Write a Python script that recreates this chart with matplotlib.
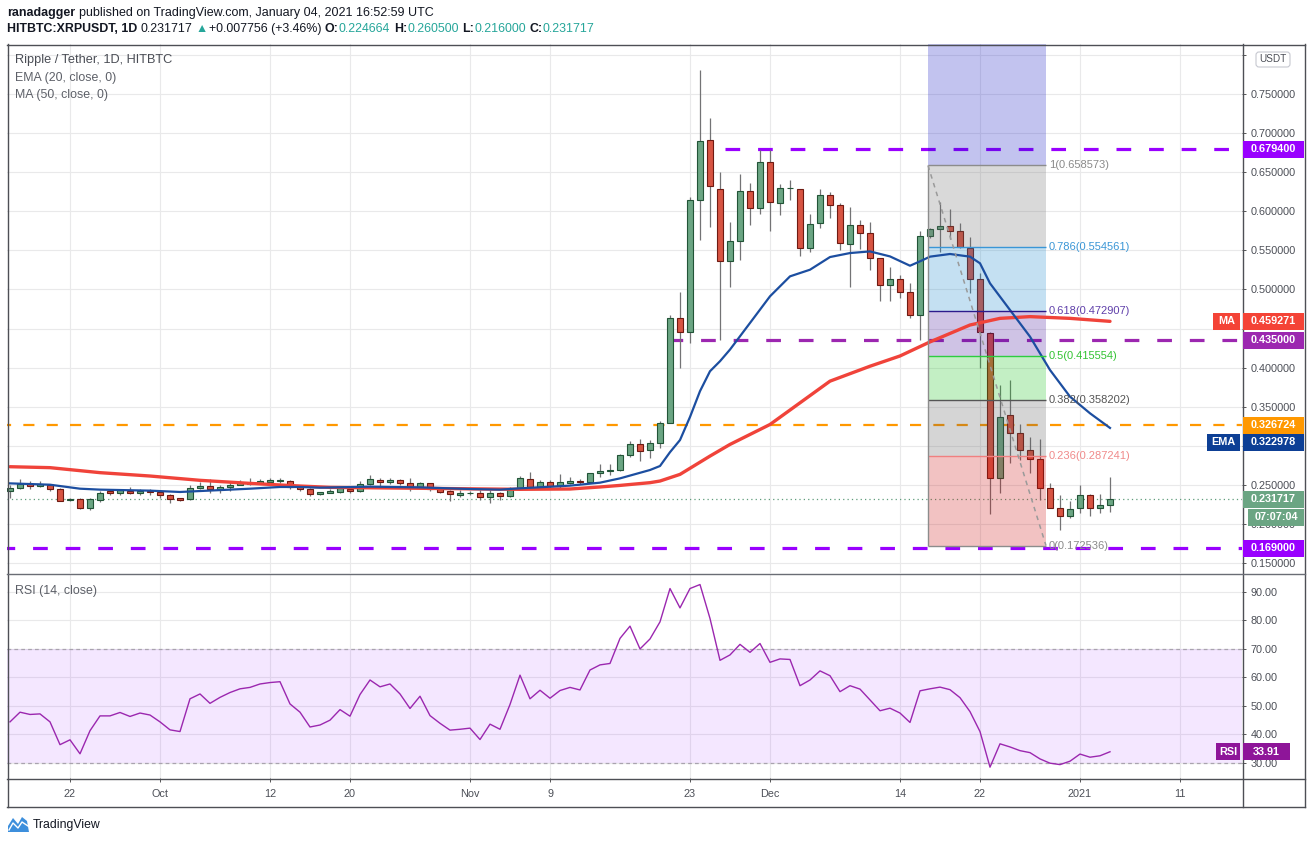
import numpy as np
import pandas as pd
import matplotlib
matplotlib.use('Agg')
import matplotlib.pyplot as plt
from matplotlib.patches import Rectangle, FancyBboxPatch, Polygon
from matplotlib.lines import Line2D
from matplotlib.transforms import IdentityTransform
from matplotlib.ticker import FuncFormatter

plt.rcParams['font.family'] = ['Liberation Sans', 'DejaVu Sans']

# ---- data (HITBTC XRP/USDT daily) ----
start_date = '2020-09-16'

opens = [.2428, .2466, .2517, .2492, .2504, .2453, .2304, .2326, .2211, .2313,
         .2423, .2402, .2428, .2402, .2423, .2411, .2377, .2330, .2317, .2466,
         .2492, .2453, .2479, .2504, .2513, .2530, .2543, .2556, .2555, .2479,
         .2453, .2385, .2402, .2415, .2445, .2428, .2509, .2560, .2543, .2560,
         .2526, .2470, .2526, .2449, .2423, .2377, .2394, .2394, .2343, .2398,
         .2364, .2445, .2573, .2479, .2539, .2492, .2530, .2547, .2543, .2649,
         .2675, .2691, .2883, .3028, .2943, .3040, .3296, .4636, .4457, .6138,
         .6913, .6283, .5364, .5615, .6257, .6040, .6628, .6104, .6296, .6287,
         .5533, .5853, .6210, .6083, .5584, .5827, .5725, .5405, .5060, .5137,
         .4971, .4677, .5687, .5770, .5817, .5753, .5535, .5130, .4448, .2594,
         .3391, .3169, .2948, .2828, .2466, .2202, .2104, .2202, .2368, .2202,
         .224664]
highs = [.2496, .2581, .2547, .2547, .2517, .2462, .2338, .2338, .2338, .2419,
         .2453, .2445, .2479, .2453, .2453, .2441, .2389, .2338, .2496, .2539,
         .2581, .2504, .2539, .2560, .2594, .2581, .2590, .2590, .2564, .2487,
         .2462, .2415, .2445, .2487, .2470, .2547, .2632, .2594, .2585, .2573,
         .2590, .2538, .2530, .2458, .2436, .2436, .2424, .2436, .2436, .2415,
         .2470, .2615, .2666, .2564, .2564, .2641, .2598, .2581, .2658, .2769,
         .2769, .2892, .3060, .3083, .3070, .3317, .4679, .4963, .6189, .7806,
         .7189, .6500, .5862, .6474, .6360, .6785, .6785, .6351, .6406, .6287,
         .5959, .6291, .6244, .6108, .6053, .5887, .5861, .5405, .5282, .5180,
         .5078, .5746, .5790, .6123, .6025, .5846, .5676, .5207, .4461, .3775,
         .3843, .3276, .3110, .3084, .2521, .2372, .2300, .2500, .2381, .2381,
         .2605]
lows = [.2334, .2453, .2453, .2470, .2419, .2291, .2291, .2198, .2185, .2283,
        .2377, .2368, .2385, .2377, .2368, .2334, .2274, .2300, .2308, .2453,
        .2402, .2402, .2419, .2496, .2504, .2513, .2521, .2530, .2453, .2419,
        .2360, .2377, .2394, .2394, .2402, .2411, .2496, .2487, .2513, .2496,
        .2428, .2453, .2428, .2394, .2300, .2347, .2377, .2309, .2274, .2309,
        .2351, .2436, .2445, .2458, .2445, .2458, .2513, .2513, .2530, .2607,
        .2632, .2683, .2862, .2806, .2849, .2977, .3296, .3998, .4317, .5637,
        .5794, .4351, .5028, .5381, .5819, .5968, .5743, .5947, .6142, .5427,
        .5478, .5780, .5912, .5503, .5031, .5512, .5248, .4852, .4852, .4890,
        .4634, .4354, .5660, .5484, .5642, .5535, .4951, .3992, .2125, .2394,
        .2786, .2820, .2658, .2308, .2202, .1925, .2074, .2146, .2108, .2138,
        .2160]
closes = [.2466, .2517, .2492, .2509, .2453, .2300, .2326, .2211, .2326, .2402,
          .2402, .2432, .2402, .2423, .2415, .2377, .2326, .2313, .2466, .2492,
          .2453, .2479, .2504, .2521, .2530, .2547, .2560, .2564, .2475, .2453,
          .2389, .2406, .2428, .2462, .2428, .2513, .2573, .2539, .2564, .2521,
          .2470, .2526, .2445, .2415, .2381, .2402, .2398, .2343, .2394, .2364,
          .2445, .2585, .2479, .2534, .2492, .2534, .2551, .2540, .2649, .2679,
          .2692, .2879, .3028, .2938, .3040, .3296, .4636, .4457, .6147, .6900,
          .6317, .5364, .5615, .6257, .6040, .6628, .6113, .6296, .6300, .5533,
          .5840, .6202, .6083, .5597, .5827, .5725, .5405, .5060, .5137, .4971,
          .4677, .5687, .5776, .5817, .5753, .5548, .5130, .4461, .2594, .3366,
          .3169, .2948, .2828, .2466, .2202, .2108, .2193, .2368, .2202, .2240,
          .231717]

# EMA(20) and MA(50) read at sample days (day index from start_date)
ema_days = [0, 4, 7, 9, 14, 17, 19, 24, 27, 29, 31, 36, 41, 46, 49, 51, 56, 59, 61, 64,
            65, 66, 67, 68, 69, 70, 71, 72, 74, 76, 78, 80, 82, 84, 86, 88, 90, 91, 92, 94,
            96, 97, 98, 100, 102, 104, 106, 108, 110]
ema_vals = [.2521, .2504, .2453, .2441, .2428, .2411, .2423, .2453, .2475, .2475, .2466, .2479,
            .2470, .2449, .2441, .2458, .2492, .2530, .2585, .2692, .2743, .2920, .3075, .3370,
            .3700, .3955, .4083, .4232, .4572, .4913, .5168, .5253, .5415, .5466, .5487, .5423,
            .5304, .5360, .5420, .5454, .5420, .5335, .5079, .4738, .4397, .3971, .3630, .3417,
            .322978]
ma_days = [0, 4, 9, 14, 19, 24, 29, 32, 41, 51, 56, 59, 61, 64, 65, 67, 70, 72, 76, 79,
           82, 86, 89, 92, 96, 99, 102, 106, 110]
ma_vals = [.2734, .2722, .2658, .2615, .2560, .2521, .2487, .2470, .2458, .2445, .2449, .2475,
           .2495, .2530, .2551, .2636, .2870, .3019, .3274, .3551, .3828, .4019, .4150, .4330,
           .4546, .4631, .4653, .4631, .459271]

rsi_vals = [44.4, 47.8, 47.0, 47.2, 44.4, 36.4, 38.1, 33.2, 41.3, 46.5,
            46.5, 47.7, 46.3, 47.5, 46.8, 44.4, 41.6, 41.0, 52.5, 54.2,
            50.9, 53.0, 54.7, 56.0, 56.5, 57.7, 58.2, 58.5, 50.7, 47.8,
            42.6, 43.3, 45.0, 48.7, 46.4, 54.0, 59.1, 56.7, 57.7, 54.2,
            49.1, 53.4, 46.6, 43.9, 41.5, 41.8, 42.2, 38.2, 43.6, 41.8,
            50.5, 60.8, 52.5, 55.5, 52.7, 55.4, 56.5, 55.6, 62.6, 64.4,
            64.9, 73.7, 78.0, 70.0, 73.5, 79.5, 91.2, 84.4, 91.2, 92.6,
            80.7, 66.0, 67.9, 71.6, 68.8, 71.9, 65.3, 66.5, 66.3, 57.1,
            59.1, 62.3, 60.6, 55.0, 57.1, 55.9, 52.1, 48.3, 49.2, 47.5,
            44.2, 55.3, 56.0, 56.6, 55.7, 52.9, 48.0, 41.0, 28.5, 36.7,
            35.6, 34.3, 33.6, 31.4, 29.9, 29.4, 30.6, 33.1, 32.0, 32.5,
            33.91]

fib_names = ['1', '0.786', '0.618', '0.5', '0.382', '0.236', '0']
fib_prices = [0.658573, 0.554561, 0.472907, 0.415554, 0.358202, 0.287241, 0.172536]
level_prices = [0.6794, 0.435, 0.326724, 0.169]
change_abs = 0.007756
change_pct = 3.46
countdown = '07:07:04'

tick_dates = ['2020-09-22', '2020-10-01', '2020-10-12', '2020-10-20', '2020-11-01', '2020-11-09',
              '2020-11-23', '2020-12-01', '2020-12-14', '2020-12-22', '2021-01-01', '2021-01-11']
tick_labels = ['22', 'Oct', '12', '20', 'Nov', '9', '23', 'Dec', '14', '22', '2021', '11']

# ---- figure / panes ----
W, H = 1311, 843
fig = plt.figure(figsize=(W / 100, H / 100), dpi=100)
fig.patch.set_facecolor('white')
PIX = IdentityTransform()


def frac(x0, y0, x1, y1):
    return [x0 / W, 1 - y1 / H, (x1 - x0) / W, (y1 - y0) / H]


ax = fig.add_axes(frac(7, 44, 1242, 573))
rax = fig.add_axes(frac(7, 574, 1242, 778))

n = len(closes)
x = np.arange(n)
o = np.array(opens); c = np.array(closes)
hi = np.array(highs); lo = np.array(lows)
t0 = pd.Timestamp(start_date)
tick_pos = [(pd.Timestamp(d) - t0).days for d in tick_dates]

for a in (ax, rax):
    a.set_xlim(-0.3, 123.2)
    a.set_xticks(tick_pos)
    a.grid(True, color='#e9e9ea', lw=0.8)
    a.set_axisbelow(True)
    for s in a.spines.values():
        s.set_visible(False)
    a.yaxis.tick_right()
    a.tick_params(axis='y', length=3, width=0.7, color='#555555', labelcolor='#4c4f57',
                  labelsize=7.8, pad=3)

ax.set_ylim(0.1375, 0.8139)
ax.set_yticks(np.arange(0.15, 0.8001, 0.05))
# labels hidden in the reference behind the tags / currency badge
ax.yaxis.set_major_formatter(FuncFormatter(
    lambda v, p: '' if round(v, 2) in (0.30, 0.45, 0.80) else f'{v:.6f}'))
ax.tick_params(axis='x', bottom=False, labelbottom=False)

# candles
up = c >= o
body_lo = np.minimum(o, c)
body_h = np.maximum(np.abs(c - o), 0.0008)
ax.vlines(x, lo, hi, color='#737375', lw=0.9, zorder=3)
ax.bar(x[up], body_h[up], bottom=body_lo[up], width=0.62, color='#6ba583',
       edgecolor='#225437', lw=0.8, zorder=3.2)
ax.bar(x[~up], body_h[~up], bottom=body_lo[~up], width=0.62, color='#d75442',
       edgecolor='#6f1a12', lw=0.8, zorder=3.2)

# horizontal levels
lvl_from = [71.5, 65.8, -1, -1]
lvl_colors = ['#9900ff', '#9c27b0', '#ff9800', '#9900ff']
lvl_lw = [2.3, 2.3, 1.6, 2.3]
lvl_dash = [(4.6, 5.6), (4.6, 5.6), (5, 5.5), (4.6, 5.6)]
for p, x0, col, lw, d in zip(level_prices, lvl_from, lvl_colors, lvl_lw, lvl_dash):
    ax.plot([x0, 130], [p, p], color=col, lw=lw, dashes=d, zorder=2.5, solid_capstyle='butt')
ax.axhline(closes[-1], color='#5f9c7b', lw=0.9, dashes=(1, 2.5), zorder=2.4)

# fibonacci retracement drawing
fx0, fx1 = 91.8, 103.6
band_cols = ['#6b6b6b', '#1787cc', '#43139b', '#13c317', '#5b5b5b', '#cc0f0f']
line_cols = ['#8c8c8c', '#3a96d6', '#2c1a8c', '#2ecc40', '#555555', '#f08080', '#8c8c8c']
text_cols = ['#8a8a8a', '#3a96d6', '#6040aa', '#33c333', '#555555', '#f08a8a', '#8a8a8a']
ax.add_patch(Rectangle((fx0, fib_prices[0]), fx1 - fx0, 1.0, fc='#0f13c3', alpha=0.25,
                       lw=0, zorder=4))
for k in range(len(fib_prices) - 1):
    ax.add_patch(Rectangle((fx0, fib_prices[k + 1]), fx1 - fx0,
                           fib_prices[k] - fib_prices[k + 1], fc=band_cols[k], alpha=0.25,
                           lw=0, zorder=4))
ax.hlines(fib_prices, fx0, fx1, colors=line_cols, lw=1.0, zorder=6)
ax.vlines(fx0, fib_prices[-1], fib_prices[0], color='#8c8c8c', lw=1.0, zorder=6)
ax.plot([fx0, fx1], [fib_prices[0], fib_prices[-1]], color='#9a9a9a', lw=1.1,
        dashes=(3, 3), zorder=6)
for name, p, col in zip(fib_names, fib_prices, text_cols):
    ax.text(fx1 + 0.3, p, f'{name}({p:.6f})', color=col, fontsize=8, va='center',
            ha='left', zorder=7)

# moving averages
ax.plot(ma_days, ma_vals, color='#f0433a', lw=2.4, zorder=5, solid_capstyle='round',
        solid_joinstyle='round')
ax.plot(ema_days, ema_vals, color='#1c4ea0', lw=1.6, zorder=5, solid_joinstyle='round')

# RSI pane
rax.set_ylim(24.7, 96.3)
rax.set_yticks(range(30, 91, 10))
rax.yaxis.set_major_formatter(FuncFormatter(lambda v, p: f'{v:.2f}'))
rax.axhspan(30, 70, color='#9915ff', alpha=0.1, lw=0, zorder=1)
for lv in (30, 70):
    rax.axhline(lv, color='#a9a3ae', lw=0.9, dashes=(3, 2.5), zorder=1.5)
rax.plot(x, rsi_vals, color='#9b27af', lw=1.0, zorder=3)
rax.set_xticklabels(tick_labels)
rax.tick_params(axis='x', length=3, width=0.7, color='#555555', labelcolor='#4c4f57',
                labelsize=7.8, pad=5)


# ---- frame lines ----
def seg(x0, y0, x1, y1, col='#4d4f55', lw=1.0):
    fig.add_artist(Line2D([x0, x1], [H - y0, H - y1], transform=PIX, color=col, lw=lw,
                          zorder=9))


seg(7, 44.5, 1304.5, 44.5)
seg(7, 806.5, 1304.5, 806.5)
seg(7.5, 44, 7.5, 807)
seg(1304.5, 44, 1304.5, 807)
seg(1242.5, 44, 1242.5, 807)
seg(7, 573.5, 1304.5, 573.5, col='#6a6d75')
seg(7, 778.5, 1304.5, 778.5)


# ---- axis tags ----
def tag(axis, val, text, fc, x0=1243, x1=1304, dy=0.0, size=7.8, h=17):
    yc = axis.transData.transform((0, val))[1] + dy
    fig.add_artist(Rectangle((x0, yc - h / 2), x1 - x0, h, transform=PIX, fc=fc, ec='none',
                             zorder=10))
    fig.text((x0 + x1) / 2, yc, text, transform=PIX, ha='center', va='center', color='white',
             fontsize=size, fontweight='bold', zorder=11)


tag(ax, level_prices[0], f'{level_prices[0]:.6f}', '#9900ff')
tag(ax, ma_vals[-1], f'{ma_vals[-1]:.6f}', '#f44336')
tag(ax, ma_vals[-1], 'MA', '#f44336', x0=1213, x1=1240)
tag(ax, level_prices[1], f'{level_prices[1]:.6f}', '#9c27b0')
tag(ax, level_prices[2], f'{level_prices[2]:.6f}', '#ff9800')
tag(ax, ema_vals[-1], f'{ema_vals[-1]:.6f}', '#0d3f95', dy=-14.5)
tag(ax, ema_vals[-1], 'EMA', '#0d3f95', x0=1207, x1=1240, dy=-14.5)
tag(ax, closes[-1], f'{closes[-1]:.6f}', '#6ba583')
tag(ax, closes[-1], countdown, '#6ba583', x0=1248, dy=-18)
tag(ax, level_prices[3], f'{level_prices[3]:.6f}', '#9900ff')
tag(rax, rsi_vals[-1], f'{rsi_vals[-1]:.2f}', '#8e1599', x1=1290)
tag(rax, rsi_vals[-1], 'RSI', '#8e1599', x0=1216, x1=1240)

fig.add_artist(FancyBboxPatch((1256, H - 67), 34, 15, boxstyle='round,pad=0,rounding_size=3',
                              transform=PIX, fc='white', ec='#c6c8d0', lw=0.8, zorder=10))
fig.text(1273, H - 59.5, 'USDT', transform=PIX, ha='center', va='center', fontsize=7.2,
         color='#4c4f57', zorder=11)

# ---- texts ----
renderer = fig.canvas.get_renderer()


def chain(x0, y, parts, size):
    xp = x0
    for gap, s, col, wt in parts:
        xp += gap
        t = fig.text(xp, H - y, s, transform=PIX, fontsize=size, color=col, fontweight=wt,
                     ha='left', va='center')
        xp = t.get_window_extent(renderer).x1


dark = '#131722'
teal = '#26a69a'
chain(7, 13, [(0, 'ranadagger', dark, 'bold'),
              (3.5, 'published on TradingView.com, January 04, 2021 16:52:59 UTC', dark, 'normal')],
      9)
chain(7, 29, [(0, 'HITBTC:XRPUSDT, 1D', dark, 'bold'),
              (3.5, f'{closes[-1]:.6f}', dark, 'normal'),
              (2.5, '▲', teal, 'normal'),
              (1.5, f'+{change_abs:.6f} (+{change_pct:.2f}%)', dark, 'normal'),
              (3.5, 'O:', dark, 'bold'), (0.3, f'{opens[-1]:.6f}', teal, 'normal'),
              (3.5, 'H:', dark, 'bold'), (0.3, f'{highs[-1]:.6f}', teal, 'normal'),
              (3.5, 'L:', dark, 'bold'), (0.3, f'{lows[-1]:.6f}', teal, 'normal'),
              (3.5, 'C:', dark, 'bold'), (0.3, f'{closes[-1]:.6f}', teal, 'normal')], 8.9)

fig.text(15, H - 60, 'Ripple / Tether, 1D, HITBTC', transform=PIX, fontsize=9.2,
         color='#4a4d55', va='center')
fig.text(15, H - 77.5, 'EMA (20, close, 0)', transform=PIX, fontsize=8.9, color='#5d6068',
         va='center')
fig.text(15, H - 95, 'MA (50, close, 0)', transform=PIX, fontsize=8.9, color='#5d6068',
         va='center')
fig.text(15, H - 591, 'RSI (14, close)', transform=PIX, fontsize=8.9, color='#5d6068',
         va='center')

# TradingView footer logo
fig.add_artist(Polygon([(8, H - 832), (8, H - 826), (13, H - 818), (18, H - 824),
                        (22, H - 817), (27, H - 821), (29, H - 832)], closed=True,
                       transform=PIX, fc='#3d8fdc', ec='none', zorder=10))
fig.add_artist(Line2D([9, 13, 18, 22, 28], [H - 830, H - 823, H - 828, H - 822, H - 826],
                      transform=PIX, color='white', lw=1.0, zorder=11))
fig.text(33, H - 825, 'TradingView', transform=PIX, fontsize=8.8, color=dark, va='center')

fig.savefig('out.png', dpi=100, facecolor='white')
